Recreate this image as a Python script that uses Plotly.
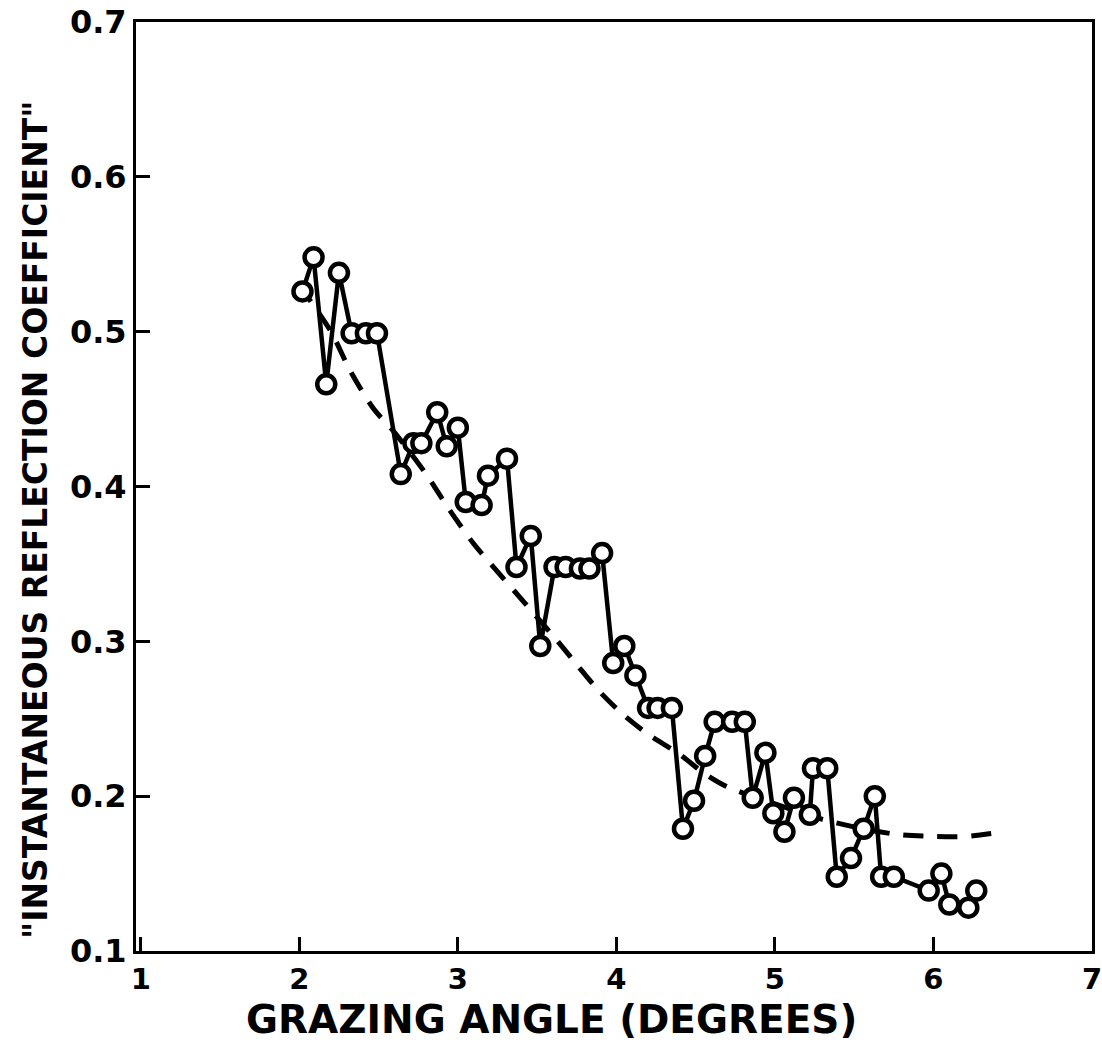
import plotly.graph_objects as go

# Measured data (grazing angle in degrees, instantaneous reflection coefficient)
angle = [2.02, 2.09, 2.17, 2.25, 2.33, 2.42, 2.49, 2.64, 2.72, 2.77,
         2.87, 2.93, 3.00, 3.05, 3.15, 3.19, 3.31, 3.37, 3.46, 3.52,
         3.61, 3.68, 3.77, 3.83, 3.91, 3.98, 4.05, 4.12, 4.20, 4.26,
         4.35, 4.42, 4.49, 4.56, 4.62, 4.73, 4.81, 4.86, 4.94, 4.99,
         5.06, 5.12, 5.22, 5.24, 5.33, 5.39, 5.48, 5.56, 5.63, 5.67,
         5.75, 5.97, 6.05, 6.10, 6.22, 6.27]
coef = [0.526, 0.548, 0.466, 0.538, 0.499, 0.499, 0.499, 0.408, 0.428, 0.428,
        0.448, 0.426, 0.438, 0.390, 0.388, 0.407, 0.418, 0.348, 0.368, 0.297,
        0.348, 0.348, 0.347, 0.347, 0.357, 0.286, 0.297, 0.278, 0.257, 0.257,
        0.257, 0.179, 0.197, 0.226, 0.248, 0.248, 0.248, 0.199, 0.228, 0.189,
        0.177, 0.199, 0.188, 0.218, 0.218, 0.148, 0.160, 0.179, 0.200, 0.148,
        0.148, 0.139, 0.150, 0.130, 0.128, 0.139]

# Smooth (dashed) trend curve
trend_angle = [2.0, 2.2, 2.32, 2.47, 2.6, 2.8, 2.94, 3.1, 3.25, 3.42, 3.63, 3.75,
               3.89, 4.05, 4.2, 4.4, 4.55, 4.7, 5.0, 5.3, 5.6, 5.8, 6.0, 6.2, 6.45]
trend_coef = [0.53, 0.50, 0.475, 0.45, 0.435, 0.408, 0.386, 0.363, 0.345, 0.325, 0.30, 0.285,
              0.268, 0.252, 0.24, 0.227, 0.215, 0.206, 0.195, 0.185, 0.178, 0.175, 0.174, 0.174, 0.177]

x_ticks = [1, 2, 3, 4, 5, 6, 7]
y_ticks = [0.1, 0.2, 0.3, 0.4, 0.5, 0.6, 0.7]
y_tick_text = ["0.1", "0.2", "0.3", "0.4", "0.5", "0.6", "0.7"]

FONT = "DejaVu Sans"

fig = go.Figure()
fig.add_trace(go.Scatter(
    x=trend_angle, y=trend_coef, mode="lines",
    line=dict(color="black", width=5, dash="20px,14px", shape="spline", smoothing=0.8),
    hoverinfo="skip", showlegend=False))
fig.add_trace(go.Scatter(
    x=angle, y=coef, mode="lines+markers",
    line=dict(color="black", width=4.5),
    marker=dict(symbol="circle", size=18, color="white", line=dict(color="black", width=4.5)),
    showlegend=False))

fig.update_layout(
    width=1102, height=1050,
    margin=dict(l=136, r=10, t=22, b=99),
    paper_bgcolor="white", plot_bgcolor="white",
    font=dict(family=FONT, color="black"),
    annotations=[
        dict(text="GRAZING ANGLE (DEGREES)", xref="paper", yref="paper",
             x=(551 - 136) / 956, y=-(1019 - 951) / 929, xanchor="center", yanchor="middle",
             showarrow=False, font=dict(family=FONT, size=39, weight="bold")),
        dict(text='"INSTANTANEOUS REFLECTION COEFFICIENT"', xref="paper", yref="paper",
             x=-(136 - 35) / 956, y=(951 - 520) / 929, xanchor="center", yanchor="middle",
             textangle=-90, showarrow=False, font=dict(family=FONT, size=33, weight="bold")),
    ],
)
fig.update_xaxes(
    range=[0.97, 7.0], tickvals=x_ticks, ticktext=[str(v) for v in x_ticks],
    ticks="inside", ticklen=14, tickwidth=3, tickcolor="black",
    showline=True, linewidth=3, linecolor="black", mirror=True,
    showgrid=False, zeroline=False, automargin=False, ticklabeloverflow="allow",
    tickfont=dict(family=FONT, size=29, weight="bold"),
)
fig.update_yaxes(
    range=[0.1, 0.7], tickvals=y_ticks, ticktext=y_tick_text,
    ticks="inside", ticklen=14, tickwidth=3, tickcolor="black",
    showline=True, linewidth=3, linecolor="black", mirror=True,
    showgrid=False, zeroline=False, automargin=False, ticklabeloverflow="allow",
    tickfont=dict(family=FONT, size=32, weight="bold"),
)

fig.write_html("out.html")
